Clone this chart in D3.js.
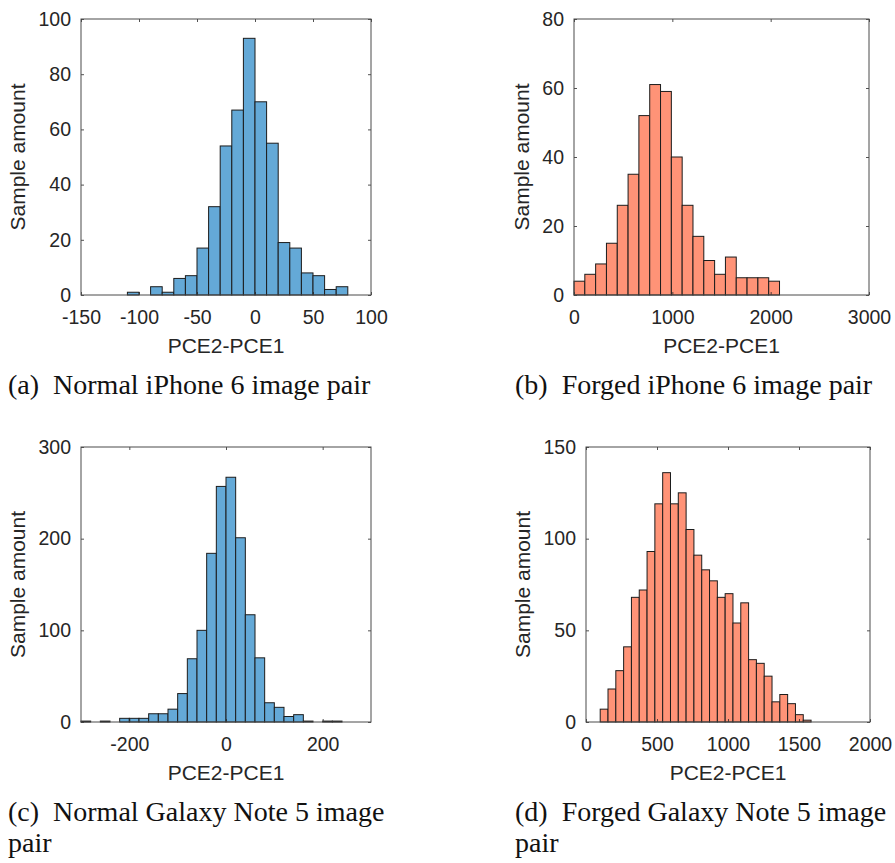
<!DOCTYPE html>
<html>
<head>
<meta charset="utf-8">
<script src="https://cdn.jsdelivr.net/npm/d3@7"></script>
<style>
  body { margin: 0; background: #fff; }
  .tick text { font-family: "Liberation Sans", Arial, sans-serif; font-size: 19.5px; fill: #262626; }
  .lbl { font-family: "Liberation Sans", Arial, sans-serif; font-size: 21px; fill: #262626; }
  .cap { font-family: "Liberation Serif", "Times New Roman", serif; font-size: 28px; fill: #111; }
</style>
</head>
<body>
<div id="chart"></div>
<script>

// (a) normal iPhone 6
var normalIphoneCounts = [1, 0, 3, 1, 6, 7, 17, 32, 54, 67, 93, 70, 55, 19, 17, 8, 7, 2, 3];
var normalIphoneBin = { start: -110, width: 10 };
var normalIphoneXTicks = [-150, -100, -50, 0, 50, 100];
var normalIphoneYTicks = [0, 20, 40, 60, 80, 100];

// (b) forged iPhone 6
var forgedIphoneCounts = [4, 6, 9, 15, 26, 35, 52, 61, 59, 40, 26, 17, 10, 6, 11, 5, 5, 5, 4];
var forgedIphoneBin = { start: 0, width: 110 };
var forgedIphoneXTicks = [0, 1000, 2000, 3000];
var forgedIphoneYTicks = [0, 20, 40, 60, 80];

// (c) normal Galaxy Note 5
var normalGalaxyCounts = [1, 0, 1, 0, 4, 4, 4, 9, 9, 14, 31, 69, 100, 184, 257, 267, 201, 117, 70, 21, 16, 6, 8, 1, 0, 1, 1];
var normalGalaxyBin = { start: -300, width: 20 };
var normalGalaxyXTicks = [-200, 0, 200];
var normalGalaxyYTicks = [0, 100, 200, 300];

// (d) forged Galaxy Note 5
var forgedGalaxyCounts = [7, 18, 28, 41, 68, 72, 93, 119, 136, 119, 125, 105, 91, 83, 77, 68, 70, 54, 65, 34, 32, 25, 11, 15, 10, 4, 1];
var forgedGalaxyBin = { start: 100, width: 55 };
var forgedGalaxyXTicks = [0, 500, 1000, 1500, 2000];
var forgedGalaxyYTicks = [0, 50, 100, 150];

var blue = "#64a9d7";
var orange = "#ff9377";

var panels = [
  { counts: normalIphoneCounts, bin: normalIphoneBin, xTicks: normalIphoneXTicks, yTicks: normalIphoneYTicks,
    xDomain: [-150, 100], yDomain: [0, 100], color: blue,
    box: { left: 81, right: 371, top: 19, bottom: 295 },
    caption: ["(a)\u2002Normal iPhone 6 image pair"], capX: 8 },
  { counts: forgedIphoneCounts, bin: forgedIphoneBin, xTicks: forgedIphoneXTicks, yTicks: forgedIphoneYTicks,
    xDomain: [0, 3000], yDomain: [0, 80], color: orange,
    box: { left: 574, right: 869, top: 19, bottom: 295 },
    caption: ["(b)\u2002Forged iPhone 6 image pair"], capX: 515 },
  { counts: normalGalaxyCounts, bin: normalGalaxyBin, xTicks: normalGalaxyXTicks, yTicks: normalGalaxyYTicks,
    xDomain: [-300, 300], yDomain: [0, 300], color: blue,
    box: { left: 81, right: 371, top: 447, bottom: 722 },
    caption: ["(c)\u2002Normal Galaxy Note 5 image", "pair"], capX: 8 },
  { counts: forgedGalaxyCounts, bin: forgedGalaxyBin, xTicks: forgedGalaxyXTicks, yTicks: forgedGalaxyYTicks,
    xDomain: [0, 2000], yDomain: [0, 150], color: orange,
    box: { left: 586, right: 870, top: 447, bottom: 722 },
    caption: ["(d)\u2002Forged Galaxy Note 5 image", "pair"], capX: 515 }
];

// plain hyphen for negatives, like the original
var fmt = function (d) { return String(d); };

var svg = d3.select("#chart").append("svg")
    .attr("width", 895)
    .attr("height", 863);

function drawPanel(p) {
  var b = p.box;
  var x = d3.scaleLinear().domain(p.xDomain).range([b.left, b.right]);
  var y = d3.scaleLinear().domain(p.yDomain).range([b.bottom, b.top]);
  var g = svg.append("g");

  // bars
  var bins = p.counts.map(function (c, i) {
    return { x0: p.bin.start + i * p.bin.width, x1: p.bin.start + (i + 1) * p.bin.width, count: c };
  }).filter(function (d) { return d.count > 0; });

  g.selectAll("rect.bar")
      .data(bins)
      .enter().append("rect")
      .attr("class", "bar")
      .attr("x", function (d) { return x(d.x0); })
      .attr("width", function (d) { return x(d.x1) - x(d.x0); })
      .attr("y", function (d) { return y(d.count); })
      .attr("height", function (d) { return y(0) - y(d.count); })
      .attr("fill", p.color)
      .attr("stroke", "#1c1c1c")
      .attr("stroke-width", 1);

  // axes, ticks pointing inward on all four sides
  g.append("g")
      .attr("transform", "translate(0," + b.bottom + ")")
      .call(d3.axisBottom(x).tickValues(p.xTicks).tickSize(-3).tickPadding(15).tickFormat(fmt));
  g.append("g")
      .attr("transform", "translate(0," + b.top + ")")
      .call(d3.axisTop(x).tickValues(p.xTicks).tickSize(-3).tickFormat(""));
  var yAxis = g.append("g")
      .attr("transform", "translate(" + b.left + ",0)")
      .call(d3.axisLeft(y).tickValues(p.yTicks).tickSize(-3).tickPadding(10).tickFormat(fmt));
  g.append("g")
      .attr("transform", "translate(" + b.right + ",0)")
      .call(d3.axisRight(y).tickValues(p.yTicks).tickSize(-3).tickFormat(""));

  g.selectAll(".domain").remove();
  g.selectAll(".tick line").attr("stroke", "#262626").attr("stroke-width", 0.8);
  g.selectAll(".tick text").attr("fill", "#262626");
  g.selectAll("g").attr("font-family", null).attr("font-size", null);

  g.append("rect")
      .attr("x", b.left)
      .attr("y", b.top)
      .attr("width", b.right - b.left)
      .attr("height", b.bottom - b.top)
      .attr("fill", "none")
      .attr("stroke", "#4a4a4a")
      .attr("stroke-width", 1);

  // axis labels
  var tickW = d3.max(yAxis.selectAll(".tick text").nodes(), function (n) { return n.getComputedTextLength(); });
  g.append("text")
      .attr("class", "lbl")
      .attr("text-anchor", "middle")
      .attr("x", (b.left + b.right) / 2)
      .attr("y", b.bottom + 58)
      .text("PCE2-PCE1");
  g.append("text")
      .attr("class", "lbl")
      .attr("text-anchor", "middle")
      .attr("transform", "translate(" + (b.left - tickW - 23) + "," + ((b.top + b.bottom) / 2) + ") rotate(-90)")
      .text("Sample amount");

  // sub-caption
  p.caption.forEach(function (line, i) {
    g.append("text")
        .attr("class", "cap")
        .attr("x", p.capX)
        .attr("y", b.bottom + 99 + i * 31)
        .text(line);
  });
}

panels.forEach(drawPanel);

</script>
</body>
</html>
